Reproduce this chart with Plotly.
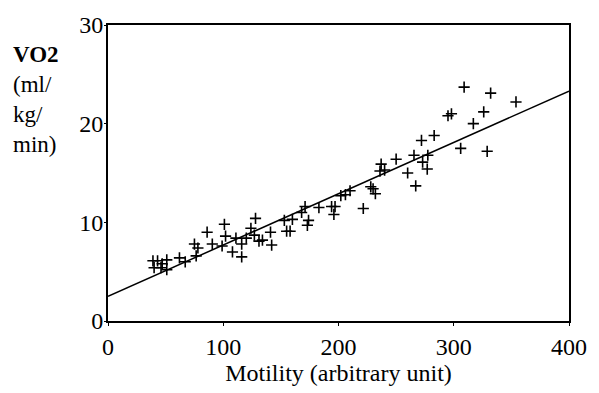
import plotly.graph_objects as go

# Scatter data: motility (arbitrary unit) vs VO2 (ml/kg/min)
motility = [39, 43, 47, 51, 40, 46, 51, 62, 67, 75, 78, 76.5, 86, 90.5, 101, 102, 99,
            108, 111, 116, 116, 120, 124, 128, 127, 131, 134, 141, 142, 153, 155, 158,
            160, 168, 171, 174, 173, 183, 194, 196, 197, 202, 206, 210, 221.5, 228, 230,
            232, 237, 236, 240, 250, 260, 265.5, 267, 272, 273, 277, 277.5, 283, 295,
            298, 306, 309, 317, 326, 332, 329, 354]
vo2 = [6.1, 6.1, 5.8, 6.2, 5.4, 5.4, 5.2, 6.4, 6.0, 7.8, 7.4, 6.6, 9.0, 7.8, 9.8, 8.6, 7.6,
       7.0, 8.4, 7.8, 6.5, 8.4, 9.4, 10.4, 8.7, 8.1, 8.2, 9.0, 7.7, 10.2, 9.1, 9.1,
       10.3, 11.0, 11.6, 10.2, 9.7, 11.5, 11.6, 10.8, 11.6, 12.7, 12.8, 13.2, 11.4, 13.6, 13.4,
       12.9, 15.9, 15.2, 15.3, 16.4, 15.0, 16.8, 13.7, 18.3, 16.1, 15.4, 16.8, 18.8, 20.8,
       21.0, 17.5, 23.7, 20.0, 21.2, 23.1, 17.2, 22.2]

# Regression line end points
line_x = [0, 400]
line_y = [2.5, 23.3]

x_ticks = [0, 100, 200, 300, 400]
y_ticks = [0, 10, 20, 30]

FONT = "Liberation Serif, Times New Roman, serif"

fig = go.Figure()
fig.add_trace(go.Scatter(
    x=line_x, y=line_y, mode="lines",
    line=dict(color="black", width=1.5), showlegend=False, hoverinfo="skip"))
fig.add_trace(go.Scatter(
    x=motility, y=vo2, mode="markers",
    marker=dict(symbol="cross-thin", size=8, line=dict(color="black", width=1.6)),
    showlegend=False))

fig.update_layout(
    width=599, height=393,
    margin=dict(l=108, r=27, t=15, b=70),
    paper_bgcolor="white", plot_bgcolor="white",
    font=dict(family=FONT, size=24, color="black"),
    xaxis=dict(range=[0, 400], tickvals=x_ticks, showgrid=False, zeroline=False,
               showline=True, linecolor="black", linewidth=2, mirror=True,
               ticks="outside", ticklen=3, tickcolor="black",
               title=dict(text="Motility (arbitrary unit)", standoff=4,
                          font=dict(family=FONT, size=24))),
    yaxis=dict(range=[0, 30], tickvals=y_ticks, showgrid=False, zeroline=False,
               showline=True, linecolor="black", linewidth=2, mirror=True,
               ticks="outside", ticklen=2, tickcolor="black",
               ticklabelstandoff=-4),
    annotations=[dict(
        text="<b>VO2</b><br>(ml/<br>kg/<br>min)",
        xref="paper", yref="paper", x=-0.21, y=0.95,
        xanchor="left", yanchor="top", align="left", showarrow=False,
        font=dict(family=FONT, size=23, color="black"))],
)

fig.write_html("out.html")
